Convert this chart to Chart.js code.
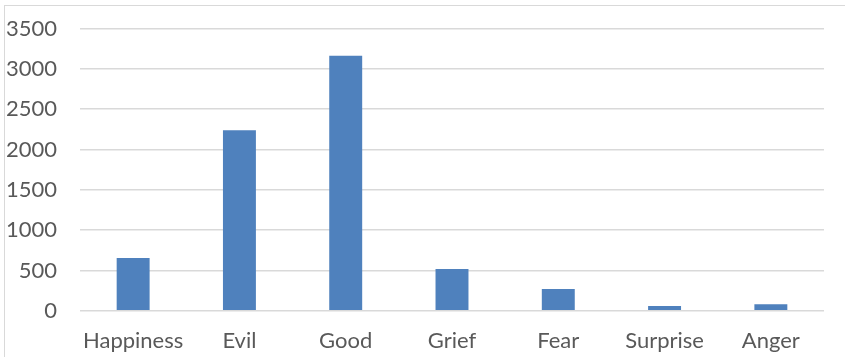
<!DOCTYPE html>
<html>
<head>
<meta charset="utf-8">
<script src="https://cdn.jsdelivr.net/npm/chart.js@4/dist/chart.umd.min.js"></script>
<style>
  html, body { margin: 0; padding: 0; background: #fff; }
  #wrap { position: relative; width: 845px; height: 357px; overflow: hidden; }
  #frame {
    position: absolute; left: 4px; top: 5px; width: 900px; height: 400px;
    border-left: 1px solid #d9d9d9; border-top: 1px solid #d9d9d9;
  }
  canvas { position: absolute; left: 0; top: 0; }
</style>
</head>
<body>
<div id="wrap">
  <div id="frame"></div>
  <canvas id="chart" width="845" height="357"></canvas>
</div>
<script>
// kategori dan nilai
const categories = ['Happiness', 'Evil', 'Good', 'Grief', 'Fear', 'Surprise', 'Anger'];
const counts = [653, 2240, 3165, 517, 269, 58, 79];
const yMax = 3500;
const yStep = 500;

const textColor = '#595959';
const gridColor = '#d9d9d9';
const barColor = '#4f81bd';

const ctx = document.getElementById('chart').getContext('2d');
new Chart(ctx, {
  type: 'bar',
  data: {
    labels: categories,
    datasets: [{
      data: counts,
      backgroundColor: barColor,
      borderWidth: 0,
      barPercentage: 0.31,
      categoryPercentage: 1.0
    }]
  },
  options: {
    responsive: false,
    animation: false,
    layout: { padding: { top: 28.7, right: 21, bottom: 0, left: 0 } },
    plugins: {
      legend: { display: false },
      tooltip: { enabled: false }
    },
    scales: {
      x: {
        grid: { display: false, drawTicks: false },
        border: { display: false },
        ticks: {
          color: textColor,
          font: { family: 'Lato', size: 22 },
          padding: 17,
          maxRotation: 0
        },
        afterFit: s => { s.height = 46.3; }
      },
      y: {
        min: 0,
        max: yMax,
        grid: { color: gridColor, lineWidth: 1.6, drawTicks: false },
        border: { display: false },
        ticks: {
          stepSize: yStep,
          color: textColor,
          font: { family: 'Lato', size: 22 },
          padding: 23,
          callback: v => String(v)
        },
        // padding label jangan ikut menggeser area grafik
        afterFit: s => { s.width = 80; s.paddingTop = 0; s.paddingBottom = 0; }
      }
    }
  }
});
</script>
</body>
</html>
